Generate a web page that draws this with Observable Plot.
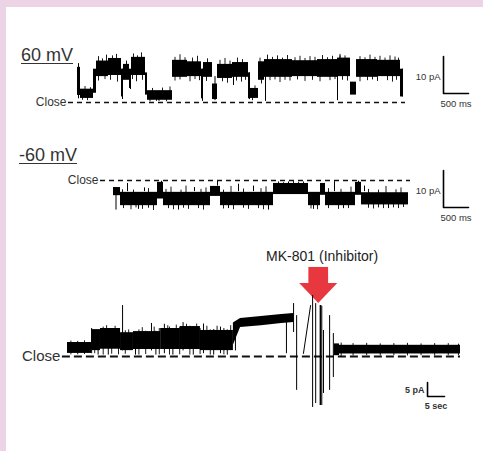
<!DOCTYPE html>
<html><head><meta charset="utf-8">
<script src="https://cdn.jsdelivr.net/npm/d3@7"></script>
<script src="https://cdn.jsdelivr.net/npm/@observablehq/plot@0.6"></script>
<style>
html,body{margin:0;padding:0;background:#fff;}
#wrap{position:relative;width:483px;height:451px;background:#fff;overflow:hidden;font-family:"Liberation Sans",Arial,sans-serif;}
.bt{position:absolute;left:0;top:0;width:483px;height:7px;background:#ecd4e6;}
.bl{position:absolute;left:0;top:0;width:6px;height:451px;background:#ecd4e6;}
.layer{position:absolute;left:0;top:0;}
.title{position:absolute;font-size:18px;color:#333;text-decoration:underline;text-decoration-thickness:1.3px;text-underline-offset:2px;line-height:1;white-space:nowrap;}
</style></head>
<body><div id="wrap"><div class="bt"></div><div class="bl"></div></div>
<script>
// ---------- DATA ----------
const titles = ["60 mV", "-60 mV"];
const closeText = "Close";
const inhibitorLabel = "MK-801 (Inhibitor)";
const inhibitorTime = 73.9;            // s, panel C
const barA = {amp: 10, dur: 0.5, ampLabel: "10 pA", durLabel: "500 ms"};
const barB = {amp: 10, dur: 0.5, ampLabel: "10 pA", durLabel: "500 ms"};
const barC = {amp: 5, dur: 5, ampLabel: "5 pA", durLabel: "5 sec"};

// Panel A (+60 mV): [t0 s, t1 s, low pA, high pA]
const levelsA = [
  [0.00,0.06,1.9,9.5],[0.06,0.32,1.1,3.6],[0.32,0.38,2.5,9.0],[0.38,0.62,7.0,11.2],
  [0.62,0.88,7.3,11.9],[0.88,0.92,1.5,9.0],[0.92,1.04,6.0,10.3],[1.04,1.08,3.8,9.0],
  [1.08,1.36,7.3,12.2],[1.36,1.40,2.0,8.0],[1.40,1.90,0.6,3.2],[1.90,2.20,6.8,11.4],
  [2.20,2.48,7.0,11.0],[2.48,2.52,1.0,9.0],[2.52,2.70,6.8,10.8],[2.70,2.80,0.8,5.0],
  [2.80,3.10,6.5,10.3],[3.10,3.42,6.8,10.8],[3.42,3.46,1.0,8.0],[3.46,3.62,1.1,3.8],
  [3.62,3.74,6.0,11.0],[3.74,4.30,6.8,11.6],[4.30,4.80,7.0,11.3],[4.80,5.20,6.8,11.6],
  [5.20,5.46,7.0,12.0],[5.46,5.58,2.0,5.5],[5.58,6.00,6.8,11.6],[6.00,6.46,7.0,11.4],
  [6.46,6.52,1.5,9.0]
];
// [t s, from pA, to pA]
const spikesA = [
  [0.02,1.0,10.5],[0.90,0.8,9],[1.06,3.5,8],[1.63,0.3,3],[2.50,0.3,9],[2.75,0.5,7],
  [3.12,4.6,9],[3.44,0.8,8],[3.76,0.3,9],[5.20,0.5,10],[5.25,7,12.6],[6.50,1.5,9]
];
const fuzzA = [
  [0.42,10,12.4],[0.5,10,11.8],[0.58,10,12.8],[0.7,10,12.6],[0.78,10,13.0],[0.98,9,11.2],[1.12,10,13.1],
  [1.2,10,12.6],[1.28,10,13.4],[1.95,10,12.2],[2.05,10,12.9],[2.15,10,12.1],[2.3,10,12.0],[2.4,10,12.5],
  [2.6,10,11.8],[2.85,9.5,11.4],[2.95,9.5,11.9],[3.05,9.5,11.2],[3.2,9.5,12],[3.3,9.5,11.6],[3.65,10,12],
  [3.8,10,12.8],[3.9,10,12.2],[4.0,10,12.6],[4.1,10,12.0],[4.2,10,12.7],[4.35,10,12.1],[4.45,10,12.5],
  [4.55,10,11.9],[4.65,10,12.4],[4.75,10,12.2],[4.9,10,12.7],[5.0,10,12.1],[5.1,10,12.5],[5.25,10,13.0],
  [5.35,10,12.6],[5.65,10,12.4],[5.75,10,12.1],[5.85,10,12.8],[5.95,10,12.2],[6.05,10,12.5],[6.15,10,12.0],
  [6.25,10,12.6],[6.35,10,12.3],[6.42,10,12.0],
  [0.42,5.8,8],[0.55,6.2,8],[0.66,6.0,8],[0.8,5.5,8],[1.1,6.2,8],[1.18,5.6,8],[1.3,6,8],[1.95,5.8,8],
  [2.05,6.1,8],[2.25,5.6,8],[2.35,6.2,8],[2.44,5.9,8],[2.58,5.7,8],[2.9,5.6,8],[3.0,5.2,8],[3.18,5.8,8],
  [3.28,5.5,8],[3.36,6,8],[3.68,5,8],[3.85,5.9,8],[3.95,6.1,8],[4.05,5.4,8],[4.15,6,8],[4.25,5.8,8],
  [4.4,6.1,8],[4.55,5.7,8],[4.7,6,8],[4.85,5.6,8],[5.05,5.9,8],[5.15,6.2,8],[5.3,6.0,8],[5.4,5.8,8],
  [5.65,5.6,8],[5.8,5.9,8],[5.9,6.1,8],[6.0,5.7,8],[6.2,5.9,8],[6.3,5.5,8],[6.38,6,8],
  [0.1,0.6,2],[0.15,2,4.3],[0.2,0.5,2],[0.26,2,4.0],[1.45,0.2,1.5],[1.5,2,3.8],[1.58,0.3,1.5],
  [1.7,2,3.9],[1.78,0.2,1.5],[1.85,2,4.2],[3.5,0.5,2],[3.55,2,4.5]
];
const closeA = [-0.18, 6.56];

// Panel B (-60 mV)
const levelsB = [
  [0.00,0.14,-4.1,-1.9],[0.14,0.88,-6.8,-3.2],[0.88,1.00,-5.0,-0.5],[1.00,1.94,-6.8,-3.2],
  [1.94,2.14,-4.3,-1.6],[2.14,3.20,-6.8,-3.2],[3.20,3.90,-3.8,-0.8],[3.90,4.14,-6.8,-3.2],
  [4.14,4.24,-4.0,-0.8],[4.24,4.84,-6.8,-3.2],[4.84,4.96,-4.0,-0.5],[4.96,5.90,-6.6,-3.3]
];
const spikesB = [
  [0.28,-3,-0.8],[0.62,-3,-2],[0.96,-1,-0.2],[1.62,-3,-1.9],[2.08,-1.5,-0.2],[2.5,-3,-1],
  [2.8,-3,-1.5],[3.5,-1,-0.4],[4.42,-3,-0.3],[4.9,-1,-0.2],[5.02,-3,-1.5],
  [0.05,-8,-4],[0.5,-7.8,-6],[1.3,-8,-6],[2.3,-7.6,-6],[3.1,-8,-6],[4.0,-7.8,-6],[4.6,-7.6,-6],[5.5,-7.6,-6]
];
const fuzzB = [
  [0.2,-7.6,-6],[0.35,-7.9,-6],[0.45,-7.4,-6],[0.58,-7.8,-6],[0.7,-7.5,-6],[0.8,-8.1,-6],[1.1,-7.6,-6],
  [1.2,-7.9,-6],[1.4,-7.5,-6],[1.5,-7.8,-6],[1.7,-7.6,-6],[1.8,-8,-6],[2.2,-7.7,-6],[2.4,-7.9,-6],
  [2.6,-7.5,-6],[2.7,-7.8,-6],[2.9,-7.6,-6],[3.0,-7.9,-6],[3.95,-7.7,-6],[4.08,-7.9,-6],[4.3,-7.6,-6],
  [4.5,-7.8,-6],[4.7,-7.6,-6],[5.1,-7.5,-6],[5.2,-7.7,-6],[5.3,-7.4,-6],[5.4,-7.6,-6],[5.6,-7.4,-6],
  [5.7,-7.6,-6],[5.8,-7.3,-6],
  [0.18,-4,-2.5],[0.4,-4,-2.6],[0.7,-4,-2.2],[1.05,-4,-2.4],[1.15,-4,-1.8],[1.35,-4,-2.6],[1.45,-4,-1.5],
  [1.75,-4,-2.4],[1.85,-4,-2.0],[2.2,-4,-2.6],[2.35,-4,-1.6],[2.6,-4,-2.3],[2.95,-4,-2.2],[3.05,-4,-1.7],
  [3.3,-2,-0.4],[3.4,-2,-0.6],[3.6,-2,-0.3],[3.7,-2,-0.5],[3.8,-2,-0.4],[4.3,-4,-2.2],[4.55,-4,-2.4],
  [4.75,-4,-1.8],[5.1,-4,-2.4],[5.3,-4,-2.6],[5.45,-4,-1.6],[5.65,-4,-2.5],[5.75,-4,-2.0]
];
const closeB = [-0.26, 5.94];

// Panel C (MK-801 application)
const levelsC = [
  [0,7.1,1.1,5.0],[7.1,9.7,2.1,9.6],[9.7,15.6,2.6,10.0],[15.6,19.4,2.1,8.5],
  [19.4,27.4,2.5,8.9],[27.4,33.2,2.5,10.0],[33.2,39.1,2.5,10.7],[39.1,48.8,2.1,9.3],
  [78.5,80,0.3,4.5],[80,115.6,0.9,4.0]
];
// [t s, low pA, high pA] — slowly rising open level before MK-801
const rampC = [[48.8,4,12],[50.9,10.4,13.6],[57,11,14.3],[63,11.8,15],[66.6,12.1,15.4]];
const spikesC = [
  [7.1,1,10],[9,0.5,9],[12,0.5,9.5],[16.2,2,18.2],[20,0.5,8.5],[24.7,2,11.8],[26,0.5,9],
  [28.5,1,11.5],[31,0.5,10],[34,2,12.1],[37,0.5,10.5],[40,1,11.6],[43,0.5,9.6],[45,1,10.5],
  [47,0.5,9.5],[49.4,2,12.5],[64.4,1,14.5],
  [66.5,8.6,18.9],[67.4,-12.1,14.6],[72.1,-18.2,21.8],[73.0,-16.8,18.9],[74.4,-17.5,18.2],
  [74.8,-17.5,18],[75.3,-13.2,9.3],[77.1,-12.1,14.6],[78.2,-7.5,8.2]
];
const fuzzC = [
  [1,0.6,5.5],[3,0.6,5.4],[5,0.7,5.6],
  [8,1,9],[10.5,0.5,10.5],[11.5,3,11],[13,0.8,9],[14,3,10.8],[15,0.6,9],[17,0.8,9.2],[18,3,9.5],
  [21,0.5,9.5],[22,3,10.3],[23,0.7,9],[25.5,3,10.5],[27,0.6,10],[29.5,3,11],[30,0.5,10.5],[32,3,11.2],
  [33,0.6,10.5],[35,3,11.5],[36,0.5,10.8],[38,3,11.6],[39,0.7,10],[41,3,10.8],[42,0.5,9.5],[44,3,10.8],
  [46,0.6,10],[48,3,11],
  [80.5,-0.3,4.8],[84,0.2,4.6],[88,0.3,4.7],[92,0.2,4.5],[96,0.3,4.6],[100,0.2,4.7],[104,0.3,4.5],
  [108,0.2,4.6],[112,0.3,4.6],[115,0.3,4.4]
];
const diagC = [[69.4,1.1],[71.5,18.2]];
const closeC = [-1.5, 115.6];

// ---------- DRAWING ----------
const FONT = "Liberation Sans, Arial, sans-serif";
const wrap = document.getElementById("wrap");

function layer(x, y, marks) {
  const svg = Plot.plot({
    width: 483, height: 451,
    x: {domain: x[0], range: x[1], axis: null},
    y: {domain: y[0], range: y[1], axis: null},
    style: {background: "transparent", overflow: "visible"},
    marks
  });
  svg.classList.add("layer");
  svg.style.position = "absolute"; svg.style.left = "0"; svg.style.top = "0";
  wrap.appendChild(svg);
}
const bands = (lv) => Plot.rect(lv, {x1: d => d[0], x2: d => d[1], y1: d => d[2], y2: d => d[3], fill: "#000"});
const spikes = (sp, w = 1) => Plot.ruleX(sp, {x: d => d[0], y1: d => d[1], y2: d => d[2], stroke: "#000", strokeWidth: w});
const dashed = (c, dash, w) => Plot.ruleY([0], {x1: c[0], x2: c[1], stroke: "#111", strokeWidth: w, strokeDasharray: dash});
const closeLabel = (c, size) => Plot.text([{t: c[0], v: 0, s: closeText}], {x: "t", y: "v", text: "s", textAnchor: "end", dx: -2, fontSize: size, fontFamily: FONT, fill: "#333"});
function scaleBar(b, t0, v0, size, bold) {
  return [
    Plot.line([[t0, v0 + b.amp], [t0, v0], [t0 + b.dur, v0]], {x: d => d[0], y: d => d[1], stroke: "#000", strokeWidth: 1.6}),
    Plot.text([{t: t0, v: v0 + b.amp * 0.45, s: b.ampLabel}], {x: "t", y: "v", text: "s", textAnchor: "end", dx: -3, fontSize: size, fontFamily: FONT, fontWeight: bold ? "bold" : "normal", fill: "#333"}),
    Plot.text([{t: t0 + b.dur / 2, v: v0, s: b.durLabel}], {x: "t", y: "v", text: "s", dy: 10, fontSize: size, fontFamily: FONT, fontWeight: bold ? "bold" : "normal", fill: "#333"})
  ];
}

// Panel A
layer([[0, 6.52], [77, 403]], [[0, 10], [102, 65]], [
  dashed(closeA, "5,4", 1.3),
  bands(levelsA), spikes(spikesA), spikes(fuzzA, 0.9),
  closeLabel(closeA, 12),
  ...scaleBar(barA, 7.32, 2.43, 9.5, false)
]);
// Panel B
layer([[0, 5.9], [113, 408]], [[0, -10], [180, 217]], [
  dashed(closeB, "5,4", 1.3),
  bands(levelsB), spikes(spikesB), spikes(fuzzB, 0.9),
  closeLabel(closeB, 12),
  ...scaleBar(barB, 6.6, -7.3, 9.5, false)
]);
// Panel C
const aw = 2.9, hw = 5.6, aTop = 31.8, aBase = 26.1, aTip = 18.9;
layer([[0, 115.6], [67, 460]], [[0, 10], [356, 328]], [
  Plot.rect([inhibitorTime], {x1: d => d - aw, x2: d => d + aw, y1: aBase - 0.2, y2: aTop, fill: "#e8373e"}),
  Plot.areaY([[inhibitorTime - hw, aBase], [inhibitorTime, aTip], [inhibitorTime + hw, aBase]], {x: d => d[0], y1: aBase, y2: d => d[1], fill: "#e8373e"}),
  dashed(closeC, "8,4", 1.8),
  bands(levelsC),
  Plot.areaY(rampC, {x: d => d[0], y1: d => d[1], y2: d => d[2], fill: "#000"}),
  spikes(spikesC), spikes(fuzzC, 0.9),
  Plot.ruleX([inhibitorTime + 0.5], {y1: -17.5, y2: 18.2, stroke: "#000", strokeWidth: 1.5}),
  Plot.line(diagC, {x: d => d[0], y: d => d[1], stroke: "#000", strokeWidth: 1}),
  closeLabel(closeC, 15),
  Plot.text([{t: inhibitorTime + 1, v: 35.7, s: inhibitorLabel}], {x: "t", y: "v", text: "s", fontSize: 14, fontFamily: FONT, fill: "#222"}),
  ...scaleBar(barC, 105.9, -14.3, 9, true)
]);

// Titles
[[titles[0], 21, 46], [titles[1], 19, 146]].forEach(([s, l, t]) => {
  const d = document.createElement("div");
  d.className = "title"; d.textContent = s;
  d.style.left = l + "px"; d.style.top = t + "px";
  wrap.appendChild(d);
});
</script>
</body></html>
